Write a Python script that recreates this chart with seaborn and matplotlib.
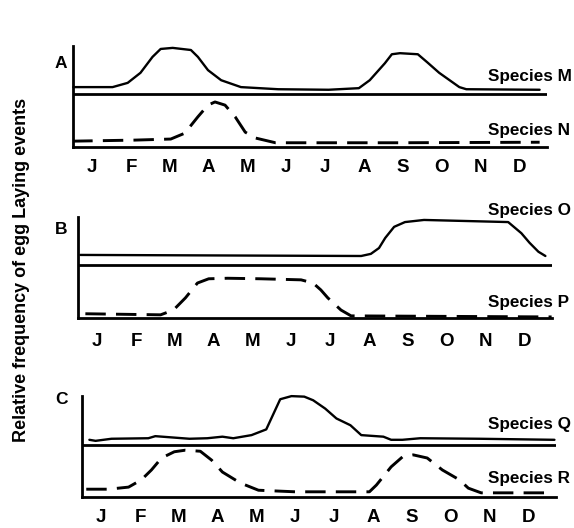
import matplotlib
matplotlib.use("Agg")
import matplotlib.pyplot as plt
import seaborn as sns

MONTHS = ["J", "F", "M", "A", "M", "J", "J", "A", "S", "O", "N", "D"]

# month position (0 = Jan) and relative frequency (1.0 = one band height)
M_X = [-0.49, 0.52, 0.91, 1.24, 1.55, 1.76, 2.07, 2.54, 2.72, 2.98, 3.32, 3.83, 4.79,
       6.09, 6.87, 7.15, 7.54, 7.72, 7.93, 8.39, 8.63, 8.94, 9.46, 9.64, 11.53]
M_Y = [0.13, 0.13, 0.21, 0.40, 0.70, 0.85, 0.87, 0.83, 0.70, 0.45, 0.26, 0.13, 0.09,
       0.08, 0.11, 0.26, 0.58, 0.75, 0.77, 0.75, 0.60, 0.40, 0.13, 0.09, 0.08]
N_X = [-0.52, 1.09, 2.02, 2.38, 2.72, 2.98, 3.16, 3.42, 3.68, 3.94, 4.20, 4.72, 7.90, 11.53]
N_Y = [0.11, 0.13, 0.15, 0.26, 0.57, 0.79, 0.85, 0.79, 0.57, 0.28, 0.17, 0.08, 0.08, 0.09]

O_X = [-0.44, 6.80, 7.05, 7.26, 7.42, 7.65, 7.93, 8.42, 10.59, 10.93, 11.14, 11.37, 11.55]
O_Y = [0.19, 0.17, 0.21, 0.32, 0.51, 0.72, 0.81, 0.85, 0.81, 0.60, 0.42, 0.25, 0.17]
P_X = [-0.31, 1.63, 1.96, 2.27, 2.58, 2.87, 3.36, 4.21, 5.25, 5.56, 5.76, 5.94, 6.28, 6.54, 11.71]
P_Y = [0.08, 0.06, 0.15, 0.38, 0.66, 0.74, 0.75, 0.74, 0.72, 0.66, 0.53, 0.38, 0.15, 0.04, 0.02]

Q_X = [-0.31, -0.15, 0.26, 1.21, 1.39, 2.27, 2.73, 3.12, 3.40, 3.87, 4.25, 4.43, 4.61,
       4.90, 5.23, 5.46, 5.77, 6.06, 6.42, 6.70, 7.27, 7.47, 7.76, 8.22, 9.74, 11.68]
Q_Y = [0.10, 0.08, 0.12, 0.13, 0.17, 0.12, 0.13, 0.16, 0.13, 0.19, 0.30, 0.59, 0.88,
       0.94, 0.93, 0.86, 0.70, 0.51, 0.38, 0.19, 0.16, 0.10, 0.10, 0.13, 0.12, 0.10]
R_X = [-0.39, 0.18, 0.70, 1.03, 1.29, 1.55, 1.88, 2.16, 2.55, 2.84, 3.12, 3.58, 4.05,
       5.00, 6.91, 7.09, 7.47, 7.76, 8.04, 8.40, 8.79, 9.23, 9.46, 9.79, 11.60]
R_Y = [0.15, 0.15, 0.19, 0.33, 0.52, 0.75, 0.87, 0.90, 0.88, 0.71, 0.48, 0.27, 0.13,
       0.10, 0.10, 0.23, 0.58, 0.77, 0.81, 0.75, 0.52, 0.33, 0.17, 0.08, 0.08]

W, H = 574, 528

sns.set_theme(style="white")
plt.rcParams["font.family"] = ["Liberation Sans", "DejaVu Sans"]
plt.rcParams["text.color"] = "black"
plt.rcParams["xtick.color"] = "black"
plt.rcParams["xtick.labelcolor"] = "black"

fig = plt.figure(figsize=(W / 100, H / 100), dpi=100)

# (letter, top species, bottom species, left px, bottom px, top px, divider px, tick pad)
panels = [
    ("A", ("Species M", M_X, M_Y), ("Species N", N_X, N_Y), 73, 147, 46, 94, 9),
    ("B", ("Species O", O_X, O_Y), ("Species P", P_X, P_Y), 78, 318, 217, 265, 10.5),
    ("C", ("Species Q", Q_X, Q_Y), ("Species R", R_X, R_Y), 82, 497, 396, 445, 9),
]
label_y = {"Species M": 76, "Species N": 130, "Species O": 211,
           "Species P": 302, "Species Q": 424, "Species R": 479}
letter_y = {"A": 63, "B": 229, "C": 400}

for letter, top, bot, left, bottom, ytop, divider, pad in panels:
    unit = bottom - divider
    ax = fig.add_axes([left / W, 1 - bottom / H, 474 / W, (bottom - ytop) / H])
    ax.set_xlim(-0.5, 11.72)
    ax.set_ylim(0, (bottom - ytop) / unit)

    name_t, tx, ty = top
    sns.lineplot(x=tx, y=[1 + v for v in ty], ax=ax, color="black",
                 linewidth=1.7, estimator=None, sort=False)
    ax.lines[-1].set_clip_on(False)
    ax.lines[-1].set_solid_joinstyle("round")
    name_b, bx, by = bot
    sns.lineplot(x=bx, y=by, ax=ax, color="black",
                 linewidth=2.1, estimator=None, sort=False)
    ax.lines[-1].set_dashes((7.0, 3.5))
    ax.axhline(1, color="black", linewidth=2.0)

    for side in ["top", "right"]:
        ax.spines[side].set_visible(False)
    for side in ["left", "bottom"]:
        ax.spines[side].set_linewidth(2.0)
        ax.spines[side].set_color("black")

    ax.set_xticks(range(12))
    ax.set_xticklabels(MONTHS, fontsize=13.5, fontweight="bold")
    ax.tick_params(axis="x", length=0, pad=pad)
    ax.set_yticks([])
    ax.set_xlabel("")
    ax.set_ylabel("")
    ax.set_facecolor("none")

    fig.text(61 / W, 1 - letter_y[letter] / H, letter, fontsize=12.5,
             fontweight="bold", ha="center", va="center")
    for name in (name_t, name_b):
        fig.text(488 / W, 1 - label_y[name] / H, name, fontsize=12.3,
                 fontweight="bold", ha="left", va="center")

fig.text(22 / W, 1 - 270 / H, "Relative frequency of egg Laying events",
         rotation=90, fontsize=13, fontweight="bold", ha="center", va="center")

fig.savefig("out.png", dpi=100)
